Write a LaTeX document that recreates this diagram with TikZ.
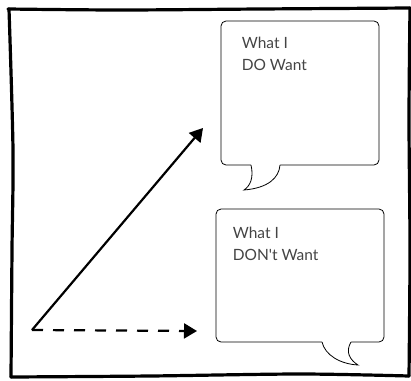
\documentclass[tikz,border=0pt]{standalone}
\usepackage{fontspec}
\setmainfont{Lato}
\usetikzlibrary{arrows.meta,positioning}
\definecolor{textgray}{HTML}{444444}
\tikzset{
	every bubble/.style={
		draw,
		rounded corners=5pt,
		line width=0.8pt,
		inner sep=0pt
	},
	bubble text/.style={
		anchor=north west,
		inner sep=0pt,
		align=left,
		text=textgray,
		font=\fontsize{15.5}{22.5}\selectfont
	},
	bubble tail/.style={line width=0.8pt},
	frame line/.style={line width=3.2pt, line cap=round},
	big arrow/.style={line width=2.2pt, -{Triangle[length=13pt,width=15pt]}},
}

\begin{document}
\begin{tikzpicture}[x=1pt, y=-1pt]

\useasboundingbox (0,0) rectangle (411,380);

% hand drawn frame
\draw [frame line] plot [smooth] coordinates {(8,9) (120,10) (260,9) (410,8)};
\draw [frame line] plot [smooth] coordinates {(410,8) (409,120) (410,250) (409,376)};
\draw [frame line] plot [smooth] coordinates {(409,376) (300,374) (150,376) (11,377)};
\draw [frame line] plot [smooth] coordinates {(11,377) (12,250) (13,150) (9,9)};

% speech bubbles
\node [every bubble, minimum width=158pt, minimum height=144pt] (dowant) at (300,93) {};
\node [every bubble, minimum width=168pt, minimum height=133pt] (dontwant) at (300,275.5) {};

\node [bubble text, below right=16pt and 21pt of dowant.north west] (dowant-text) {What I\\DO Want};
\node [bubble text, below right=18pt and 17pt of dontwant.north west] (dontwant-text) {What I\\DON\textquotesingle t Want};

% tails
\fill [white] (251,163) -- (251,165) .. controls (254,178) and (250,186) .. (244,190)
	.. controls (268,188) and (279,178) .. (280,165) -- (280,163) -- cycle;
\draw [bubble tail] (251,165) .. controls (254,178) and (250,186) .. (244,190)
	.. controls (268,188) and (279,178) .. (280,165);

\fill [white] (322,340) -- (322,342) .. controls (325,355) and (340,364) .. (358,365)
	.. controls (350,360) and (345,352) .. (351,342) -- (351,340) -- cycle;
\draw [bubble tail] (322,342) .. controls (325,355) and (340,364) .. (358,365)
	.. controls (350,360) and (345,352) .. (351,342);

% arrows
\coordinate (origin) at (32,330);
\coordinate (do-tip) at (203,128);
\coordinate (dont-tip) at (197,331);

\draw [big arrow] (origin) -- (do-tip);
\draw [big arrow, dash pattern=on 11pt off 10pt] (origin) -- (dont-tip);

\end{tikzpicture}
\end{document}
